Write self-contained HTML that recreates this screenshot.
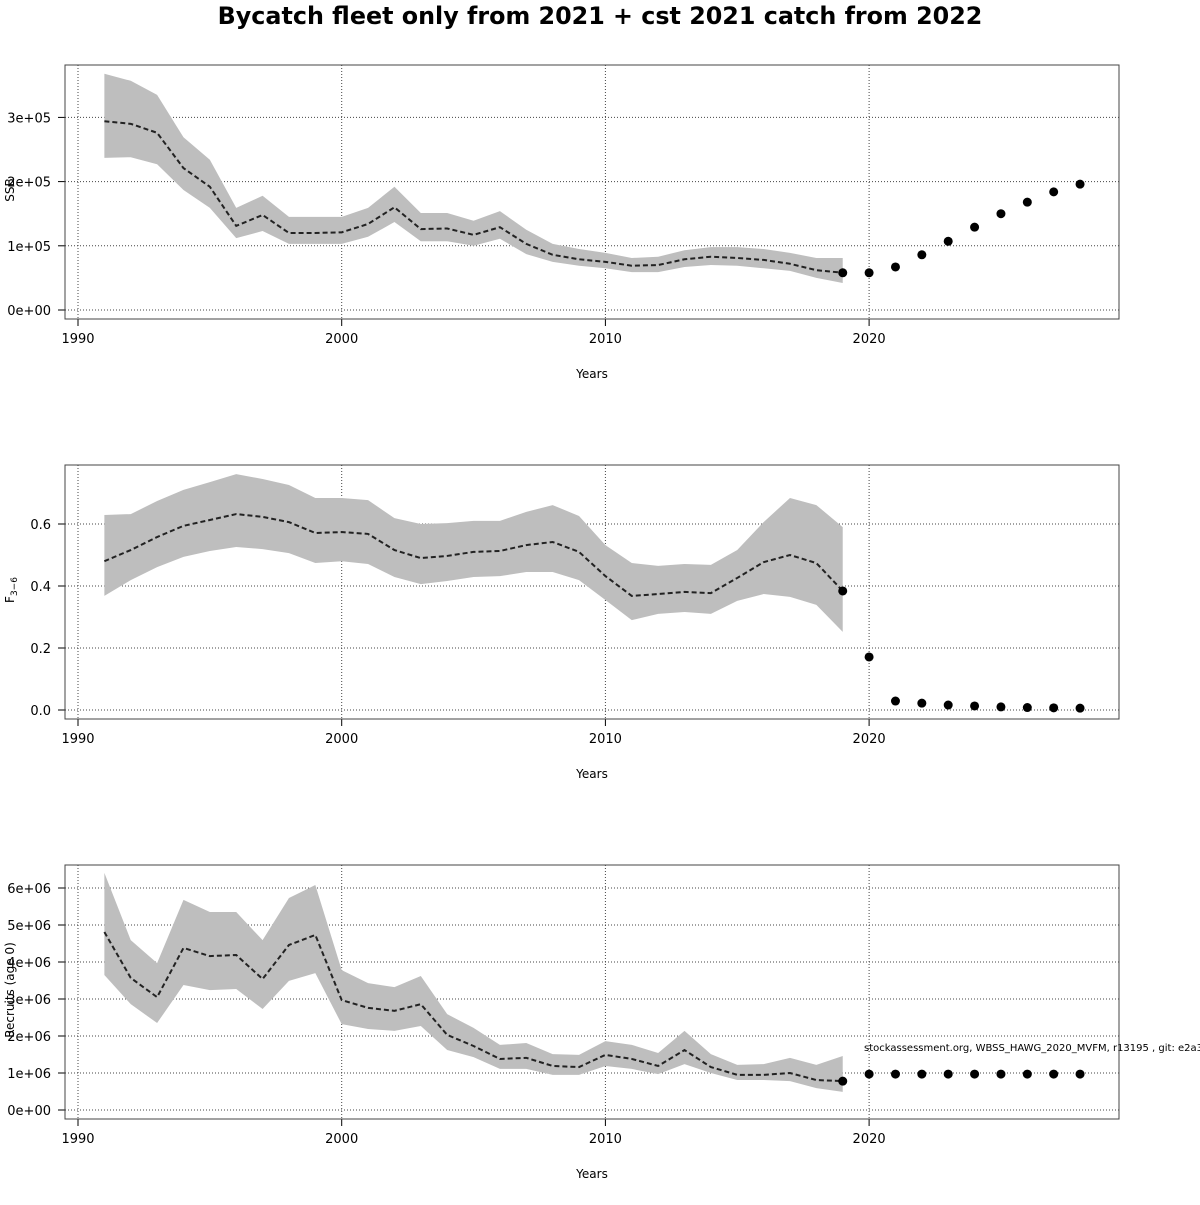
<!DOCTYPE html>
<html><head><meta charset="utf-8"><style>body{margin:0;background:#fff;overflow:hidden}svg text{font-family:"DejaVu Sans","Liberation Sans",sans-serif}</style></head>
<body>
<svg id="c" width="1200" height="1200" xmlns="http://www.w3.org/2000/svg">
<rect width="1200" height="1200" fill="#fff"/>
<text x="600" y="24" text-anchor="middle" font-size="23.8" font-weight="bold">Bycatch fleet only from 2021 + cst 2021 catch from 2022</text>
<text x="864" y="1051" font-size="10">stockassessment.org, WBSS_HAWG_2020_MVFM, r13195 , git: e2a30</text>
</svg>
<script>
const histYears=[1991,1992,1993,1994,1995,1996,1997,1998,1999,2000,2001,2002,2003,2004,2005,2006,2007,2008,2009,2010,2011,2012,2013,2014,2015,2016,2017,2018,2019];
const projYears=[2019,2020,2021,2022,2023,2024,2025,2026,2027,2028];
const xTicks=[1990,2000,2010,2020];
const ssbMean=[2.94,2.90,2.76,2.21,1.92,1.31,1.48,1.20,1.20,1.21,1.34,1.60,1.26,1.27,1.17,1.29,1.03,0.86,0.79,0.75,0.69,0.70,0.79,0.83,0.81,0.78,0.72,0.62,0.58];
const ssbHigh=[3.68,3.57,3.35,2.69,2.34,1.59,1.78,1.45,1.45,1.45,1.59,1.92,1.51,1.51,1.39,1.54,1.25,1.03,0.95,0.89,0.81,0.83,0.93,0.98,0.98,0.95,0.89,0.81,0.81];
const ssbLow=[2.37,2.38,2.27,1.87,1.59,1.12,1.23,1.03,1.03,1.03,1.14,1.37,1.07,1.07,1.00,1.11,0.87,0.75,0.69,0.65,0.59,0.59,0.67,0.70,0.69,0.65,0.61,0.50,0.42];
const ssbProj=[0.58,0.58,0.67,0.86,1.07,1.29,1.50,1.68,1.84,1.96];
const ssbTicks=["0e+00","1e+05","2e+05","3e+05"];
const fMean=[0.48,0.516,0.558,0.594,0.613,0.632,0.623,0.606,0.571,0.574,0.568,0.516,0.49,0.497,0.51,0.513,0.532,0.542,0.51,0.432,0.368,0.374,0.381,0.377,0.426,0.477,0.5,0.474,0.384];
const fHigh=[0.629,0.632,0.674,0.71,0.735,0.761,0.745,0.726,0.684,0.684,0.677,0.619,0.6,0.603,0.61,0.61,0.639,0.661,0.626,0.532,0.474,0.465,0.471,0.468,0.516,0.606,0.684,0.661,0.59];
const fLow=[0.368,0.419,0.461,0.494,0.513,0.526,0.519,0.506,0.474,0.48,0.471,0.429,0.406,0.416,0.429,0.432,0.445,0.445,0.419,0.355,0.29,0.31,0.316,0.31,0.352,0.374,0.365,0.339,0.252];
const fProj=[0.384,0.171,0.029,0.022,0.016,0.013,0.01,0.008,0.007,0.006];
const fTicks=["0.0","0.2","0.4","0.6"];
const recMean=[4.81,3.57,3.05,4.38,4.16,4.19,3.54,4.46,4.73,2.97,2.76,2.68,2.86,2.03,1.73,1.38,1.41,1.19,1.16,1.49,1.38,1.19,1.62,1.16,0.95,0.95,1.0,0.81,0.78];
const recHigh=[6.41,4.59,3.97,5.68,5.35,5.35,4.59,5.73,6.08,3.78,3.43,3.32,3.62,2.59,2.22,1.76,1.81,1.51,1.49,1.86,1.76,1.54,2.14,1.51,1.22,1.24,1.41,1.22,1.46];
const recLow=[3.65,2.86,2.35,3.38,3.24,3.27,2.73,3.49,3.70,2.32,2.19,2.14,2.27,1.62,1.43,1.11,1.11,0.95,0.95,1.19,1.11,0.97,1.24,1.0,0.81,0.81,0.78,0.59,0.49];
const recProj=[0.78,0.97,0.97,0.97,0.97,0.97,0.97,0.97,0.97,0.97];
const recTicks=["0e+00","1e+06","2e+06","3e+06","4e+06","5e+06","6e+06"];

const svg=document.getElementById('c');const NS='http://www.w3.org/2000/svg';
function mk(t,a,p){const e=document.createElementNS(NS,t);for(const k in a)e.setAttribute(k,a[k]);(p||svg).appendChild(e);return e;}
const xs=y=>78+(y-1990)*26.37;
function panel(name,top,y0,pxPer,tickStep,ticks,mean,hi,lo,proj,ylab,ylabY){
  const g=mk('g',{});
  
  
  const ys=v=>y0-v/tickStep*pxPer;
  const bot=top+254;
  xTicks.forEach(t=>{const l=mk('line',{x1:xs(t),x2:xs(t),y1:top,y2:bot,stroke:'#444','stroke-dasharray':'1,2'},g);
    
    mk('line',{x1:xs(t),x2:xs(t),y1:bot,y2:bot+7,stroke:'#000'},g);
    const tx=mk('text',{x:xs(t),y:bot+24,'font-size':13,'text-anchor':'middle'},g);tx.textContent=t;
    });
  ticks.forEach((t,i)=>{const y=ys(i*tickStep);
    const l=mk('line',{x1:65,x2:1119,y1:y,y2:y,stroke:'#444','stroke-dasharray':'1,2'},g);
    
    mk('line',{x1:58,x2:65,y1:y,y2:y,stroke:'#000'},g);
    const tx=mk('text',{x:51,y:y+5,'font-size':13,'text-anchor':'end'},g);tx.textContent=t;
    });
  let d='M'+histYears.map((y,i)=>xs(y)+','+ys(hi[i])).join('L');
  d+='L'+histYears.slice().reverse().map((y,j)=>{const i=histYears.length-1-j;return xs(y)+','+ys(lo[i]);}).join('L')+'Z';
  const band=mk('path',{d:d,fill:'#bebebe'},g);
  
  const ln=mk('polyline',{points:histYears.map((y,i)=>xs(y)+','+ys(mean[i])).join(' '),fill:'none',stroke:'#222','stroke-width':2,'stroke-dasharray':'5,3'},g);
  
  projYears.forEach((y,i)=>{const c=mk('circle',{cx:xs(y),cy:ys(proj[i]),r:4.5,fill:'#000'},g);
    });
  const bx=mk('rect',{x:65,y:top,width:1054,height:254,fill:'none',stroke:'#444'},g);
  
  const xl=mk('text',{x:592,y:top+313,'font-size':12,'text-anchor':'middle'},g);xl.textContent='Years';
  
  const yl=mk('text',{x:0,y:0,'font-size':12,'text-anchor':'middle',transform:'translate(14,'+ylabY+') rotate(-90)'},g);
  yl.innerHTML=ylab;
  
}
panel('ssb',65,310,64.2,1,ssbTicks,ssbMean,ssbHigh,ssbLow,ssbProj,'SSB',190);
panel('f',465,710,62,0.2,fTicks,fMean,fHigh,fLow,fProj,'F<tspan font-size="9" dy="3">3\u22126</tspan>',590);
panel('recruits',865,1110,37,1,recTicks,recMean,recHigh,recLow,recProj,'Recruits (age 0)',990);
</script>
</body></html>
